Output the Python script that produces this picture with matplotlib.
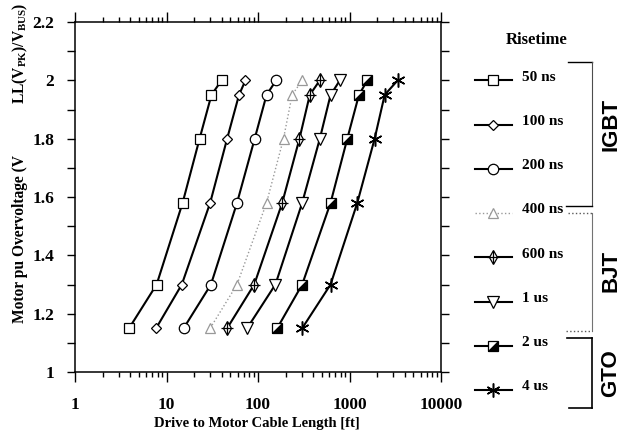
import matplotlib
matplotlib.use('Agg')
import matplotlib.pyplot as plt
from matplotlib.markers import MarkerStyle
from matplotlib.transforms import Affine2D
from matplotlib.lines import Line2D
from matplotlib.legend_handler import HandlerTuple
from matplotlib.ticker import FixedLocator, FixedFormatter, LogLocator, NullFormatter, MultipleLocator

# ---------------- data ----------------
overvoltage = [1.15, 1.30, 1.58, 1.80, 1.95, 2.00]
risetimes = ["50 ns", "100 ns", "200 ns", "400 ns", "600 ns", "1 us", "2 us", "4 us"]
len_50ns = [3.9, 7.8, 15, 23, 31, 40]
len_100ns = [7.7, 14.7, 30, 46, 62, 73]
len_200ns = [15.4, 30.6, 59, 92, 124, 158]
len_400ns = [30, 59, 124, 190, 236, 304]
len_600ns = [46, 91, 184, 284, 368, 474]
len_1us = [76, 155, 304, 474, 621, 785]
len_2us = [162, 304, 621, 946, 1268, 1567]
len_4us = [304, 621, 1217, 1883, 2423, 3363]
devices = ["IGBT", "BJT", "GTO"]
x_ticks = [1, 10, 100, 1000, 10000]
x_tick_labels = ["1", "10", "100", "1000", "10000"]
y_ticks = [1.0, 1.2, 1.4, 1.6, 1.8, 2.0, 2.2]
y_tick_labels = ["1", "1.2", "1.4", "1.6", "1.8", "2", "2.2"]

series = [len_50ns, len_100ns, len_200ns, len_400ns, len_600ns, len_1us, len_2us, len_4us]

# ---------------- style ----------------
SERIF = 'Liberation Serif'
plt.rcParams['font.family'] = [SERIF, 'DejaVu Serif']
plt.rcParams['font.weight'] = 'bold'
plt.rcParams['mathtext.fontset'] = 'custom'
plt.rcParams['mathtext.rm'] = 'Liberation Serif:bold'
plt.rcParams['mathtext.it'] = 'Liberation Serif:bold'
plt.rcParams['mathtext.bf'] = 'Liberation Serif:bold'

W, H = 621, 437
fig = plt.figure(figsize=(W / 100, H / 100), dpi=100)
def fx(px): return px / W
def fy(py): return 1 - py / H

ax = fig.add_axes([fx(75), fy(372), fx(441) - fx(75), fy(22) - fy(372)])
ax.set_xscale('log')
ax.set_xlim(1, 10000)
ax.set_ylim(1.0, 2.2)

half_sq = MarkerStyle('D', fillstyle='bottom', transform=Affine2D().rotate_deg(45))

styles = [
    dict(marker='s', ms=7.5),
    dict(marker='D', ms=5.5),
    dict(marker='o', ms=7.5),
    dict(marker='^', ms=6.5, color='0.6', ls=':', mec='0.6', lw=1.0),
    dict(marker='d', ms=7.5),
    dict(marker='v', ms=8),
    dict(marker=half_sq, ms=7.5, mfc='black', mfcalt='white'),
    dict(marker=(6, 2, 0), ms=10, mew=1.1),
]

handles = []
for lengths, st, lab in zip(series, styles, risetimes):
    kw = dict(color='black', lw=1.5, ls='-', mfc='white', mec='black', mew=0.9)
    kw.update(st)
    mfcalt = kw.pop('mfcalt', None)
    ln, = ax.plot(lengths, overvoltage, color=kw['color'], lw=kw['lw'], ls=kw['ls'],
                  marker=kw['marker'], ms=kw['ms'], mfc=kw['mfc'], mec=kw['mec'],
                  mew=kw['mew'], label=lab, zorder=3)
    if mfcalt is not None:
        ln.set_markerfacecoloralt(mfcalt)
    if lab == "600 ns":
        cr, = ax.plot(lengths, overvoltage, ls='none', marker='+', ms=9,
                      mec='black', mew=0.9, zorder=4)
        handles.append((ln, cr))
    else:
        handles.append(ln)

# ---------------- axes / ticks ----------------
for s in ax.spines.values():
    s.set_linewidth(1.1)
ax.xaxis.set_major_locator(FixedLocator(x_ticks))
ax.xaxis.set_major_formatter(FixedFormatter(x_tick_labels))
ax.xaxis.set_minor_locator(LogLocator(base=10, subs=range(2, 10)))
ax.xaxis.set_minor_formatter(NullFormatter())
ax.yaxis.set_major_locator(FixedLocator(y_ticks))
ax.yaxis.set_major_formatter(FixedFormatter(y_tick_labels))
ax.yaxis.set_minor_locator(MultipleLocator(0.1))

ax.tick_params(which='both', direction='out', top=True, right=True, width=1.0)
ax.tick_params(axis='x', which='major', length=7, pad=11, labelsize=12.5)
ax.tick_params(axis='x', which='minor', length=3.5)
ax.tick_params(axis='y', which='both', length=6, pad=9, labelsize=12.5)

ax.set_xlabel("Drive to Motor Cable Length [ft]", fontsize=10.5, fontweight='bold')
ax.xaxis.set_label_coords(0.5, 0, transform=fig.transFigure)
ax.xaxis.label.set_position((fx(257), fy(430)))
ax.xaxis.label.set_va('bottom')

# y label (split as in the original print)
fig.text(fx(20), fy(323), "Motor pu Overvoltage (V", rotation=90, ha='center', va='bottom',
         fontsize=11.2, fontweight='bold')
fig.text(fx(20), fy(3), r"LL(V$_{\mathrm{PK}}$)/V$_{\mathrm{BUS}}$)", rotation=90,
         ha='center', va='top', fontsize=11.2, fontweight='bold')

# ---------------- legend ----------------
fig.text(fx(537), fy(40), "Risetime", ha='center', va='center', fontsize=12, fontweight='bold')
leg = ax.legend(handles, risetimes, loc='upper left', bbox_to_anchor=(fx(475), fy(75)),
                bbox_transform=fig.transFigure, frameon=False, numpoints=1,
                handlelength=2.4, handletextpad=0.7, labelspacing=2.0,
                borderpad=0, borderaxespad=0,
                handler_map={tuple: HandlerTuple(ndivide=1, pad=0)},
                prop=dict(family=SERIF, weight='bold', size=11))
for t in leg.get_texts():
    t.set_y(5)

# ---------------- device brackets ----------------
def seg(x0, y0, x1, y1, **kw):
    fig.add_artist(Line2D([fx(x0), fx(x1)], [fy(y0), fy(y1)], transform=fig.transFigure, **kw))

# IGBT
seg(568, 62, 592, 62, color='black', lw=1.0)
seg(592, 62, 592, 206, color='0.3', lw=0.8)
seg(566, 206, 592, 206, color='black', lw=1.0)
# BJT
seg(568, 213, 592, 213, color='0.35', lw=1.0, ls=':')
seg(592, 213, 592, 331, color='0.45', lw=0.8)
seg(566, 331, 592, 331, color='0.35', lw=1.0, ls=':')
# GTO
seg(567, 338, 592, 338, color='black', lw=1.2)
seg(592, 338, 592, 408, color='black', lw=1.2)
seg(569, 408, 592, 408, color='black', lw=1.2)

for name, yc in zip(devices, [124, 271, 373]):
    fig.text(fx(611), fy(yc), name, rotation=90, ha='center', va='center',
             fontsize=16, fontweight='bold', family=['Liberation Sans', 'DejaVu Sans'])

fig.savefig('out.png', dpi=100)
